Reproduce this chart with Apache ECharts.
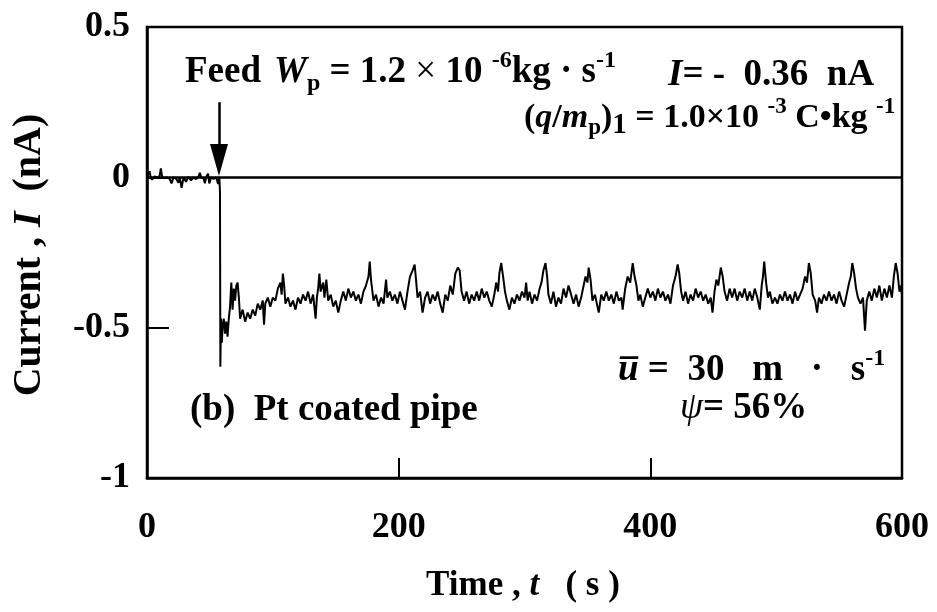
<!DOCTYPE html>
<html>
<head>
<meta charset="utf-8">
<script src="https://cdn.jsdelivr.net/npm/echarts@6/dist/echarts.min.js"></script>
<style>
html,body{margin:0;padding:0;background:#fff;}
#chart{width:937px;height:612px;}
</style>
</head>
<body>
<div id="chart"></div>
<script>
// ---- data: [time (s), current (nA)] ----
const preFeed = [
[0,0.000],[1,0.005],[2,0.020],[3,0.000],[4,-0.008],[6,0.003],[8,0.000],[10,0.004],[11,0.030],[12,0.002],
[14,-0.003],[16,0.000],[18,-0.005],[19.5,-0.020],[21,0.000],[23,-0.004],[25,-0.018],[26,0.000],[27.5,-0.035],
[29,0.000],[31,-0.015],[33,0.002],[35,-0.010],[37,0.000],[39,-0.006],[41,0.003],[42,0.015],[43,0.000],
[45,-0.004],[46,-0.020],[47,0.000],[48.5,0.012],[49.5,-0.020],[51,0.000],[53,-0.005],[55,0.000],[56.5,-0.022],[57.5,0.000]
];
const feedDrop = [
[58,-0.05],[58.3,-0.63],[58.8,-0.47],[59.5,-0.55]
];
const earlySegment = [
[60,-0.50],[61,-0.47],[62,-0.52],[63,-0.48],[64,-0.53],[65,-0.47],[66,-0.43],[67,-0.35],[68,-0.44],[69,-0.37],
[70,-0.41],[71,-0.36],[72,-0.35],[73,-0.40],[74,-0.47],[76,-0.44],[78,-0.48],[80,-0.45],[82,-0.47],[84,-0.44],
[86,-0.46],[88,-0.42],[90,-0.44],[92,-0.41],[93,-0.49],[94,-0.42],[96,-0.40],[98,-0.43],[100,-0.40],[102,-0.41],
[104,-0.37],[106,-0.35],[107,-0.39],[108,-0.32],[109,-0.36],[110,-0.42],[112,-0.40],[114,-0.43],[116,-0.41],[118,-0.44],
[120,-0.40],[122,-0.42],[124,-0.39],[126,-0.41],[128,-0.38],[130,-0.42],[132,-0.39],[134,-0.47],[135,-0.40],[136,-0.37],
[137,-0.32],[138,-0.38],[140,-0.35],[141,-0.40],[142.5,-0.34],[144,-0.41],[146,-0.39],[148,-0.43],[150,-0.41],[152,-0.45],
[154,-0.41],[156,-0.38],[158,-0.41],[160,-0.37],[162,-0.40],[164,-0.38],[166,-0.41],[168,-0.39],[170,-0.42],[172,-0.38],
[174,-0.36],[176,-0.33],[177,-0.28],[178,-0.34],[180,-0.41],[182,-0.39],[184,-0.43],[186,-0.40],[188,-0.42],[190,-0.34],
[191,-0.40],[193,-0.38],[195,-0.41],[197,-0.39],[199,-0.42]
];
const midSegment = [
[201,-0.38],[203,-0.41],[205,-0.44],[207,-0.38],[209,-0.33],[211,-0.31],[212.7,-0.29],[214,-0.35],[215,-0.40],[217,-0.38],
[219,-0.45],[221,-0.40],[223,-0.38],[225,-0.42],[227,-0.39],[229,-0.41],[231,-0.38],[233,-0.42],[235,-0.45],[237,-0.39],
[239,-0.41],[241,-0.36],[243,-0.39],[245,-0.32],[247,-0.30],[248.5,-0.31],[250,-0.38],[252,-0.41],[254,-0.38],[256,-0.42],
[258,-0.39],[260,-0.41],[262,-0.38],[264,-0.41],[266,-0.37],[268,-0.40],[270,-0.38],[272,-0.41],[274,-0.43],[276,-0.39],
[277.5,-0.35],[279,-0.38],[280,-0.32],[281.5,-0.285],[283,-0.33],[284.5,-0.38],[286,-0.41],[288,-0.44],[290,-0.40],[292,-0.42],
[294,-0.39],[296,-0.41],[298,-0.38],[300,-0.40],[301.3,-0.35],[302.5,-0.41],[304,-0.38],[306,-0.42],[308,-0.39],[310,-0.41],
[312,-0.37],[313.5,-0.35],[315,-0.31],[316.7,-0.285],[318,-0.33],[319,-0.39],[321,-0.42],[323,-0.38],[325,-0.43],[327,-0.40],
[329,-0.42],[331,-0.37],[333,-0.40],[335,-0.36],[337,-0.39],[339,-0.42],[341,-0.39],[343,-0.43],[345,-0.40],[347,-0.36],
[348.5,-0.33],[350,-0.35],[351,-0.30],[352.5,-0.34],[354,-0.41],[356,-0.39],[358,-0.43],[359,-0.45],[361,-0.39],[363,-0.41],
[365,-0.38],[367,-0.41],[369,-0.39],[371,-0.42],[373,-0.38],[375,-0.41],[377,-0.40],[378,-0.44],[380,-0.37],[382,-0.33],
[384,-0.35],[386,-0.285],[387.5,-0.33],[389,-0.36],[390.5,-0.41],[392,-0.39],[394,-0.43],[396,-0.40],[398,-0.37]
];
const lateSegment = [
[400,-0.40],[402,-0.38],[404,-0.41],[406,-0.37],[408,-0.40],[410,-0.38],[412,-0.41],[414,-0.39],[416,-0.42],[418,-0.36],
[420,-0.33],[421.7,-0.29],[423,-0.32],[424.5,-0.38],[426,-0.41],[428,-0.38],[430,-0.42],[432,-0.39],[434,-0.41],[436,-0.37],
[438,-0.40],[440,-0.38],[442,-0.41],[444,-0.39],[446,-0.42],[448,-0.40],[449.4,-0.45],[451,-0.38],[452.5,-0.34],[454,-0.36],
[456,-0.30],[457.5,-0.33],[459,-0.38],[461,-0.41],[463,-0.37],[465,-0.40],[467,-0.37],[469,-0.41],[471,-0.38],[473,-0.40],
[475,-0.37],[477,-0.41],[479,-0.38],[481,-0.41],[483,-0.37],[485,-0.40],[487,-0.44],[488.5,-0.36],[489.5,-0.33],[490.5,-0.28],
[492,-0.35],[493.5,-0.40],[495,-0.38],[497,-0.42],[499,-0.40],[501,-0.42],[503,-0.39],[505,-0.41],[507,-0.38],[509,-0.41],
[511,-0.39],[513,-0.42],[515,-0.38],[517,-0.41],[519,-0.39],[521,-0.37],[523,-0.33],[524.5,-0.35],[526,-0.285],[527.5,-0.32],
[529,-0.39],[531,-0.41],[532.5,-0.45],[534,-0.40],[536,-0.42],[538,-0.39],[540,-0.41],[542,-0.38],[544,-0.41],[546,-0.39],
[548,-0.42],[550,-0.38],[552,-0.41],[554,-0.43],[556,-0.39],[558,-0.35],[559.3,-0.33],[560.5,-0.285],[562,-0.32],[563.5,-0.37],
[565,-0.40],[567,-0.42],[569,-0.40],[570.6,-0.51],[572,-0.41],[574,-0.38],[576,-0.41],[578,-0.37],[580,-0.40],[582,-0.36],
[584,-0.41],[586,-0.37],[588,-0.40],[590,-0.36],[592,-0.40],[593.5,-0.33],[595,-0.285],[596.5,-0.32],[598,-0.38],[599,-0.36],[600,-0.39]
];
const xTicks = [0, 200, 400, 600];
const yTicks = [-1, -0.5, 0, 0.5];
const feedTime = 57.2;

const trace = [].concat(preFeed, feedDrop, earlySegment, midSegment, lateSegment);

const FF = "'Liberation Serif','Times New Roman',serif";
const chart = echarts.init(document.getElementById('chart'), null, {renderer:'canvas'});

function mkRich(B, S){
  return {
    b:{fill:'#000',fontFamily:FF,fontWeight:'bold',fontSize:B,lineHeight:B+10},
    i:{fill:'#000',fontFamily:FF,fontWeight:'bold',fontStyle:'italic',fontSize:B,lineHeight:B+10},
    x:{fill:'#000',fontFamily:FF,fontWeight:'normal',fontSize:B,lineHeight:B+10},
    sub:{fill:'#000',fontFamily:FF,fontWeight:'bold',fontSize:S,lineHeight:S+12,verticalAlign:'bottom'},
    sub1:{fill:'#000',fontFamily:FF,fontWeight:'bold',fontSize:B-5,lineHeight:B+2,verticalAlign:'bottom'},
    sup:{fill:'#000',fontFamily:FF,fontWeight:'bold',fontSize:S,lineHeight:S,verticalAlign:'top'},
    g:{fill:'#000',fontFamily:FF,fontWeight:'normal',fontStyle:'italic',fontSize:B,lineHeight:B+10}
  };
}
const richL = mkRich(37, 24);
const richM = mkRich(34, 23);
const richN = mkRich(35, 23);
const richAxis = mkRich(40, 26);
function txt(x, y, text, rich, extra){
  const el = {type:'text', x:x, y:y, silent:true,
    style:{text:text, rich:rich, fill:'#000', fontFamily:FF, fontWeight:'bold', fontSize:36, align:'left', verticalAlign:'middle'}};
  if (extra) {
    if (extra.align) el.style.align = extra.align;
    if (extra.rotation) el.rotation = extra.rotation;
  }
  return el;
}

chart.setOption({
  animation:false,
  backgroundColor:'#fff',
  grid:{left:147, right:35, top:27, bottom:134, show:true, borderColor:'#000', borderWidth:2.5, backgroundColor:'transparent'},
  xAxis:{type:'value', min:xTicks[0], max:xTicks[xTicks.length-1], interval:200,
    axisLine:{show:true, onZero:false, lineStyle:{color:'#000', width:2.5}},
    axisTick:{show:true, inside:true, length:20, lineStyle:{color:'#000', width:2}},
    axisLabel:{margin:32, color:'#000', fontFamily:FF, fontWeight:'bold', fontSize:36},
    splitLine:{show:false}},
  yAxis:{type:'value', min:yTicks[0], max:yTicks[yTicks.length-1], interval:0.5,
    axisLine:{show:true, onZero:false, lineStyle:{color:'#000', width:2.5}},
    axisTick:{show:true, inside:true, length:22, lineStyle:{color:'#000', width:2}},
    axisLabel:{margin:17, color:'#000', fontFamily:FF, fontWeight:'bold', fontSize:36},
    splitLine:{show:false}},
  series:[{
    type:'line', data:trace, showSymbol:false, symbol:'none',
    lineStyle:{color:'#000', width:2}, silent:true,
    markLine:{silent:true, symbol:['none','none'], label:{show:false},
      data:[
        {yAxis:0, lineStyle:{color:'#000', width:2.5, type:'solid'}},
        [{coord:[feedTime,0.25], symbol:'none', lineStyle:{color:'#000', width:2.5, type:'solid'}},
         {coord:[feedTime,0.058], symbol:'triangle', symbolSize:[18,32]}]
      ]}
  }],
  graphic:[
    txt(185, 72, '{b|Feed}', richL),
    txt(274, 72, '{i|W}{sub|p}{b| = 1.2 }{x|×}{b| 10 }{sup|-6}{b|kg · s}{sup|-1}', richL),
    txt(668, 75, '{i|I}{b|= -  0.36  nA}', richL),
    txt(524, 118, '{b|(}{i|q}{b|/}{i|m}{sub|p}{b|)}{sub1|1}{b| = 1.0×10 }{sup|-3}{b| C•kg }{sup|-1}', richM),
    txt(618, 370, '{i|u\u0305}{b| =  30   m   ·   s}{sup|-1}', richL),
    txt(680, 408, '{g|ψ}{b|= 56%}', richL),
    txt(190, 410, '{b|(b)  Pt coated pipe}', richL),
    txt(523, 586, '{b|Time , }{i|t}{b|   ( s )}', richN, {align:'center'}),
    txt(30, 255, '{b|Current , }{i|I}{b|  (nA)}', richAxis, {align:'center', rotation:Math.PI/2})
  ]
});
</script>
</body>
</html>
